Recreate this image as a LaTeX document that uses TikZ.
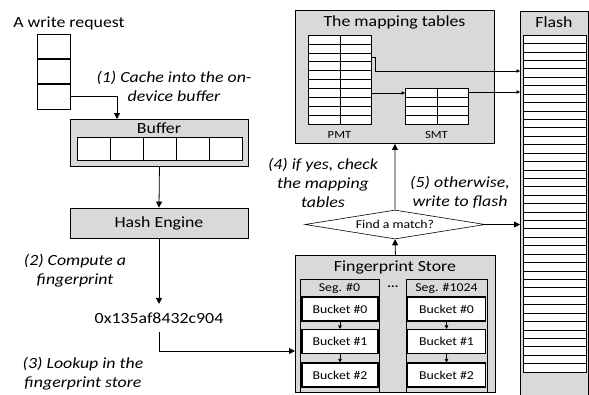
\documentclass[tikz,border=0pt]{standalone}
\usepackage{fontspec}
\setmainfont{Carlito}[FakeStretch=1.15]
\usetikzlibrary{arrows.meta,shapes.geometric,calc}
\definecolor{boxgray}{HTML}{D9D9D9}
\begin{document}
\begin{tikzpicture}[x=1pt,y=-1pt,
  big/.style={font=\fontsize{15.5}{19}\selectfont},
  small/.style={font=\fontsize{12}{14}\selectfont},
  tiny/.style={font=\fontsize{11}{13}\selectfont},
  note/.style={font=\fontsize{15.5}{19}\selectfont\itshape, align=center},
  graybox/.style={draw, line width=0.9pt, fill=boxgray, inner sep=0pt},
  cell/.style={draw, line width=0.8pt, fill=white, inner sep=0pt},
  bucket/.style={draw, line width=1.1pt, fill=white, inner sep=0pt, minimum height=24pt, font=\fontsize{12}{14}\selectfont},
  arr/.style={line width=0.8pt, -{Triangle[length=6pt,width=6pt]}},
  sarr/.style={line width=0.6pt, -{Triangle[length=3.5pt,width=3.5pt]}},
  grid/.style={line width=0.6pt},
]
\useasboundingbox (0,0) rectangle (589,394);

% write request
\node[big, anchor=base] (wr) at (69,27) {A write request};
\node[cell, anchor=north west, minimum width=33pt, minimum height=24.3pt] (r1) at (37,34) {};
\node[cell, anchor=north, minimum width=33pt, minimum height=24.3pt] (r2) at (r1.south) {};
\node[cell, anchor=north, minimum width=33pt, minimum height=24.3pt] (r3) at (r2.south) {};
\coordinate (bufin) at (117,119);
\draw[arr] (r3.east) -| (bufin);
\node[note] (n1) at (174,86.5) {(1) Cache into the on-\\device buffer};

% buffer
\node[graybox, anchor=north west, minimum width=178pt, minimum height=47pt] (buf) at (70,119) {};
\node[big] (buft) at (159,128) {Buffer};
\foreach \i in {0,...,4}
  \node[cell, anchor=north west, minimum width=33pt, minimum height=23pt] (bc\i) at ({77+33*\i},137) {};

% hash
\node[graybox, big, minimum width=178pt, minimum height=30pt] (hash) at (159,223) {Hash Engine};
\draw[arr] (buf.south) -- (hash.north);
\node[note] (n2) at (75,271) {(2) Compute a\\fingerprint};

\node[big, inner xsep=0pt, inner ysep=8.5pt] (fp) at (159,318) {0x135af8432c904};
\draw[arr] (hash.south) -- (fp.north);
\coordinate (fpin) at (295,351);
\draw[arr] (fp.south) |- (fpin);
\node[note] (n3) at (83,374) {(3) Lookup in the\\fingerprint store};

% fingerprint store
\node[graybox, anchor=north west, minimum width=200pt, minimum height=137pt] (fps) at (295,255) {};
\node[big] (fpst) at (395,267) {Fingerprint Store};
\node[graybox, anchor=north west, minimum width=79pt, minimum height=113pt] (s0) at (300,279) {};
\node[small] (s0t) at (339.5,288) {Seg. \#0};
\node[bucket, minimum width=76pt] (b00) at (340,309) {Bucket \#0};
\node[bucket, minimum width=76pt] (b01) at (340,341.5) {Bucket \#1};
\node[bucket, minimum width=76pt] (b02) at (340,375) {Bucket \#2};
\draw[sarr] (b00.south) -- (b01.north);
\draw[sarr] (b01.south) -- (b02.north);
\node[small] (dots) at (393,287) {\textbf{...}};
\node[graybox, anchor=north west, minimum width=81pt, minimum height=113pt] (s1) at (406,279) {};
\node[small] (s1t) at (446.5,288) {Seg. \#1024};
\node[bucket, minimum width=78pt] (b10) at (446.5,309) {Bucket \#0};
\node[bucket, minimum width=78pt] (b11) at (446.5,341.5) {Bucket \#1};
\node[bucket, minimum width=78pt] (b12) at (446.5,375) {Bucket \#2};
\draw[sarr] (b10.south) -- (b11.north);
\draw[sarr] (b11.south) -- (b12.north);

% mapping tables
\node[graybox, anchor=north west, minimum width=199pt, minimum height=133pt] (map) at (295,10) {};
\node[big] (mapt) at (394.5,22) {The mapping tables};
\node[cell, anchor=north west, minimum width=63pt, minimum height=89pt] (pmt) at (308,35) {};
\foreach \k in {1,...,9}
  \draw[grid] ($(pmt.north west)+(0,8.9*\k)$) -- ++(63,0);
\draw[grid] (pmt.north) -- (pmt.south);
\node[tiny] (pmtl) at (339.5,135) {PMT};
\node[cell, anchor=north west, minimum width=63pt, minimum height=36pt] (smt) at (405,88) {};
\foreach \k in {1,...,3}
  \draw[grid] ($(smt.north west)+(0,9*\k)$) -- ++(63,0);
\draw[grid] (smt.north) -- (smt.south);
\node[tiny] (smtl) at (436.5,135) {SMT};

% flash
\node[fill=boxgray, anchor=north west, minimum width=68pt, minimum height=385pt, inner sep=0pt] (flash) at (520,11) {};
\draw[line width=0.9pt] (flash.south west) |- (flash.north east) -- (flash.south east);
\node[big] (flasht) at (554,22) {Flash};
\node[cell, anchor=north west, minimum width=63pt, minimum height=337pt] (stack) at (523,35) {};
\foreach \k in {1,...,39}
  \draw[grid] ($(stack.north west)+(0,8.425*\k)$) -- ++(63,0);

% mapping arrows
\coordinate (p1) at (371,57);
\coordinate (p1b) at (375,71);
\draw[sarr] (p1) -| (p1b) -- (p1b -| flash.west);
\coordinate (p2) at (371,93);
\draw[sarr] (p2) -- (p2 -| smt.west);
\coordinate (s2) at (468,92);
\draw[sarr] (s2) -- (s2 -| flash.west);

% decision
\node[draw, diamond, aspect=6, inner sep=0pt, minimum width=180pt, minimum height=29pt, fill=white, line width=0.6pt, small] (dia) at (395,224.5) {Find a match?};
\draw[arr] (fps.north) -- (dia.south);
\draw[arr] (dia.north) -- (map.south);
\draw[arr] (dia.east) -- (dia.east -| flash.west);
\node[note] (n4) at (323,182.5) {(4) if yes, check\\the mapping\\tables};
\node[note] (n5) at (460,192.5) {(5) otherwise,\\write to flash};
\end{tikzpicture}
\end{document}
